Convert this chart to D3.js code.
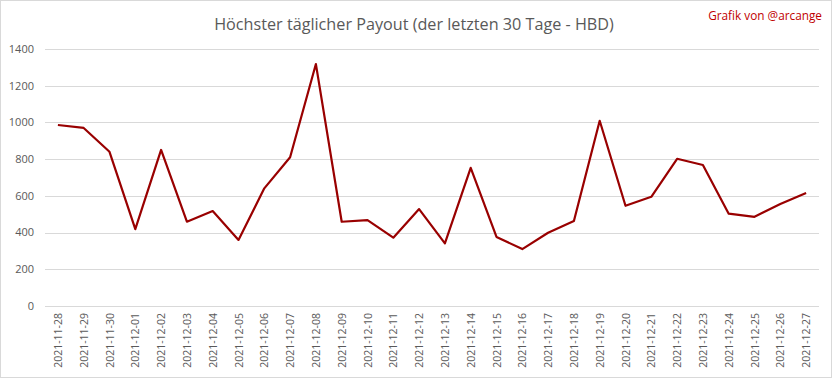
<!DOCTYPE html>
<meta charset="utf-8">
<script src="https://d3js.org/d3.v7.min.js"></script>
<style>
  body { margin: 0; background: #fff; }
</style>
<svg id="chart" width="833" height="379"></svg>
<script>
    // data
    const dates = ["2021-11-28","2021-11-29","2021-11-30","2021-12-01","2021-12-02","2021-12-03",
        "2021-12-04","2021-12-05","2021-12-06","2021-12-07","2021-12-08","2021-12-09","2021-12-10",
        "2021-12-11","2021-12-12","2021-12-13","2021-12-14","2021-12-15","2021-12-16","2021-12-17",
        "2021-12-18","2021-12-19","2021-12-20","2021-12-21","2021-12-22","2021-12-23","2021-12-24",
        "2021-12-25","2021-12-26","2021-12-27"];
    const payout = [986, 970, 840, 419, 850, 459, 517, 360, 641, 810, 1318, 459, 468, 372, 528,
        341, 753, 376, 310, 399, 463, 1009, 546, 595, 802, 768, 503, 486, 556, 616];
    const yTicks = [0, 200, 400, 600, 800, 1000, 1200, 1400];

    const svg = d3.select("#chart"),
        width = +svg.attr("width"),
        height = +svg.attr("height");

    const margin = {top: 49, right: 14, bottom: 73, left: 45};

    // outer frame
    svg.append("rect")
        .attr("x", 0.5).attr("y", 0.5)
        .attr("width", width - 2).attr("height", height - 2)
        .attr("fill", "#fff")
        .attr("stroke", "#d9d9d9");

    const x = d3.scaleBand()
        .domain(dates)
        .range([margin.left, width - margin.right]);

    const y = d3.scaleLinear()
        .domain([0, 1400])
        .range([height - margin.bottom, margin.top]);

    // gridlines
    svg.append("g")
        .selectAll("line")
        .data(yTicks)
        .join("line")
          .attr("x1", margin.left)
          .attr("x2", width - margin.right)
          .attr("y1", d => Math.round(y(d)) + 0.5)
          .attr("y2", d => Math.round(y(d)) + 0.5)
          .attr("stroke", "#d9d9d9")
          .attr("stroke-width", 1);

    // y labels
    svg.append("g")
        .selectAll("text")
        .data(yTicks)
        .join("text")
          .attr("x", 34)
          .attr("y", d => y(d))
          .attr("dy", "0.35em")
          .attr("text-anchor", "end")
          .style("font-family", "'Open Sans', sans-serif")
          .style("font-size", "11px")
          .attr("fill", "#595959")
          .text(d => d);

    // x labels
    svg.append("g")
        .selectAll("text")
        .data(dates)
        .join("text")
          .attr("transform", d => `translate(${x(d) + x.bandwidth() / 2 + 4},${height - margin.bottom + 7}) rotate(-90)`)
          .attr("text-anchor", "end")
          .style("font-family", "'Open Sans', sans-serif")
          .style("font-size", "10.5px")
          .attr("fill", "#595959")
          .text(d => d);

    // line
    const line = d3.line()
        .x((d, i) => x(dates[i]) + x.bandwidth() / 2)
        .y(d => y(d));

    svg.append("path")
        .datum(payout)
        .attr("d", line)
        .attr("fill", "none")
        .attr("stroke", "#990000")
        .attr("stroke-width", 2.2)
        .attr("stroke-linejoin", "round");

    // title
    svg.append("text")
        .attr("x", 414)
        .attr("y", 30)
        .attr("text-anchor", "middle")
        .style("font-family", "'Open Sans', sans-serif")
        .style("font-size", "16.2px")
        .attr("fill", "#595959")
        .text("Höchster täglicher Payout (der letzten 30 Tage - HBD)");

    svg.append("text")
        .attr("x", 822)
        .attr("y", 20)
        .attr("text-anchor", "end")
        .style("font-family", "'Open Sans', sans-serif")
        .style("font-size", "11.8px")
        .attr("fill", "#c00000")
        .text("Grafik von @arcange");
</script>
